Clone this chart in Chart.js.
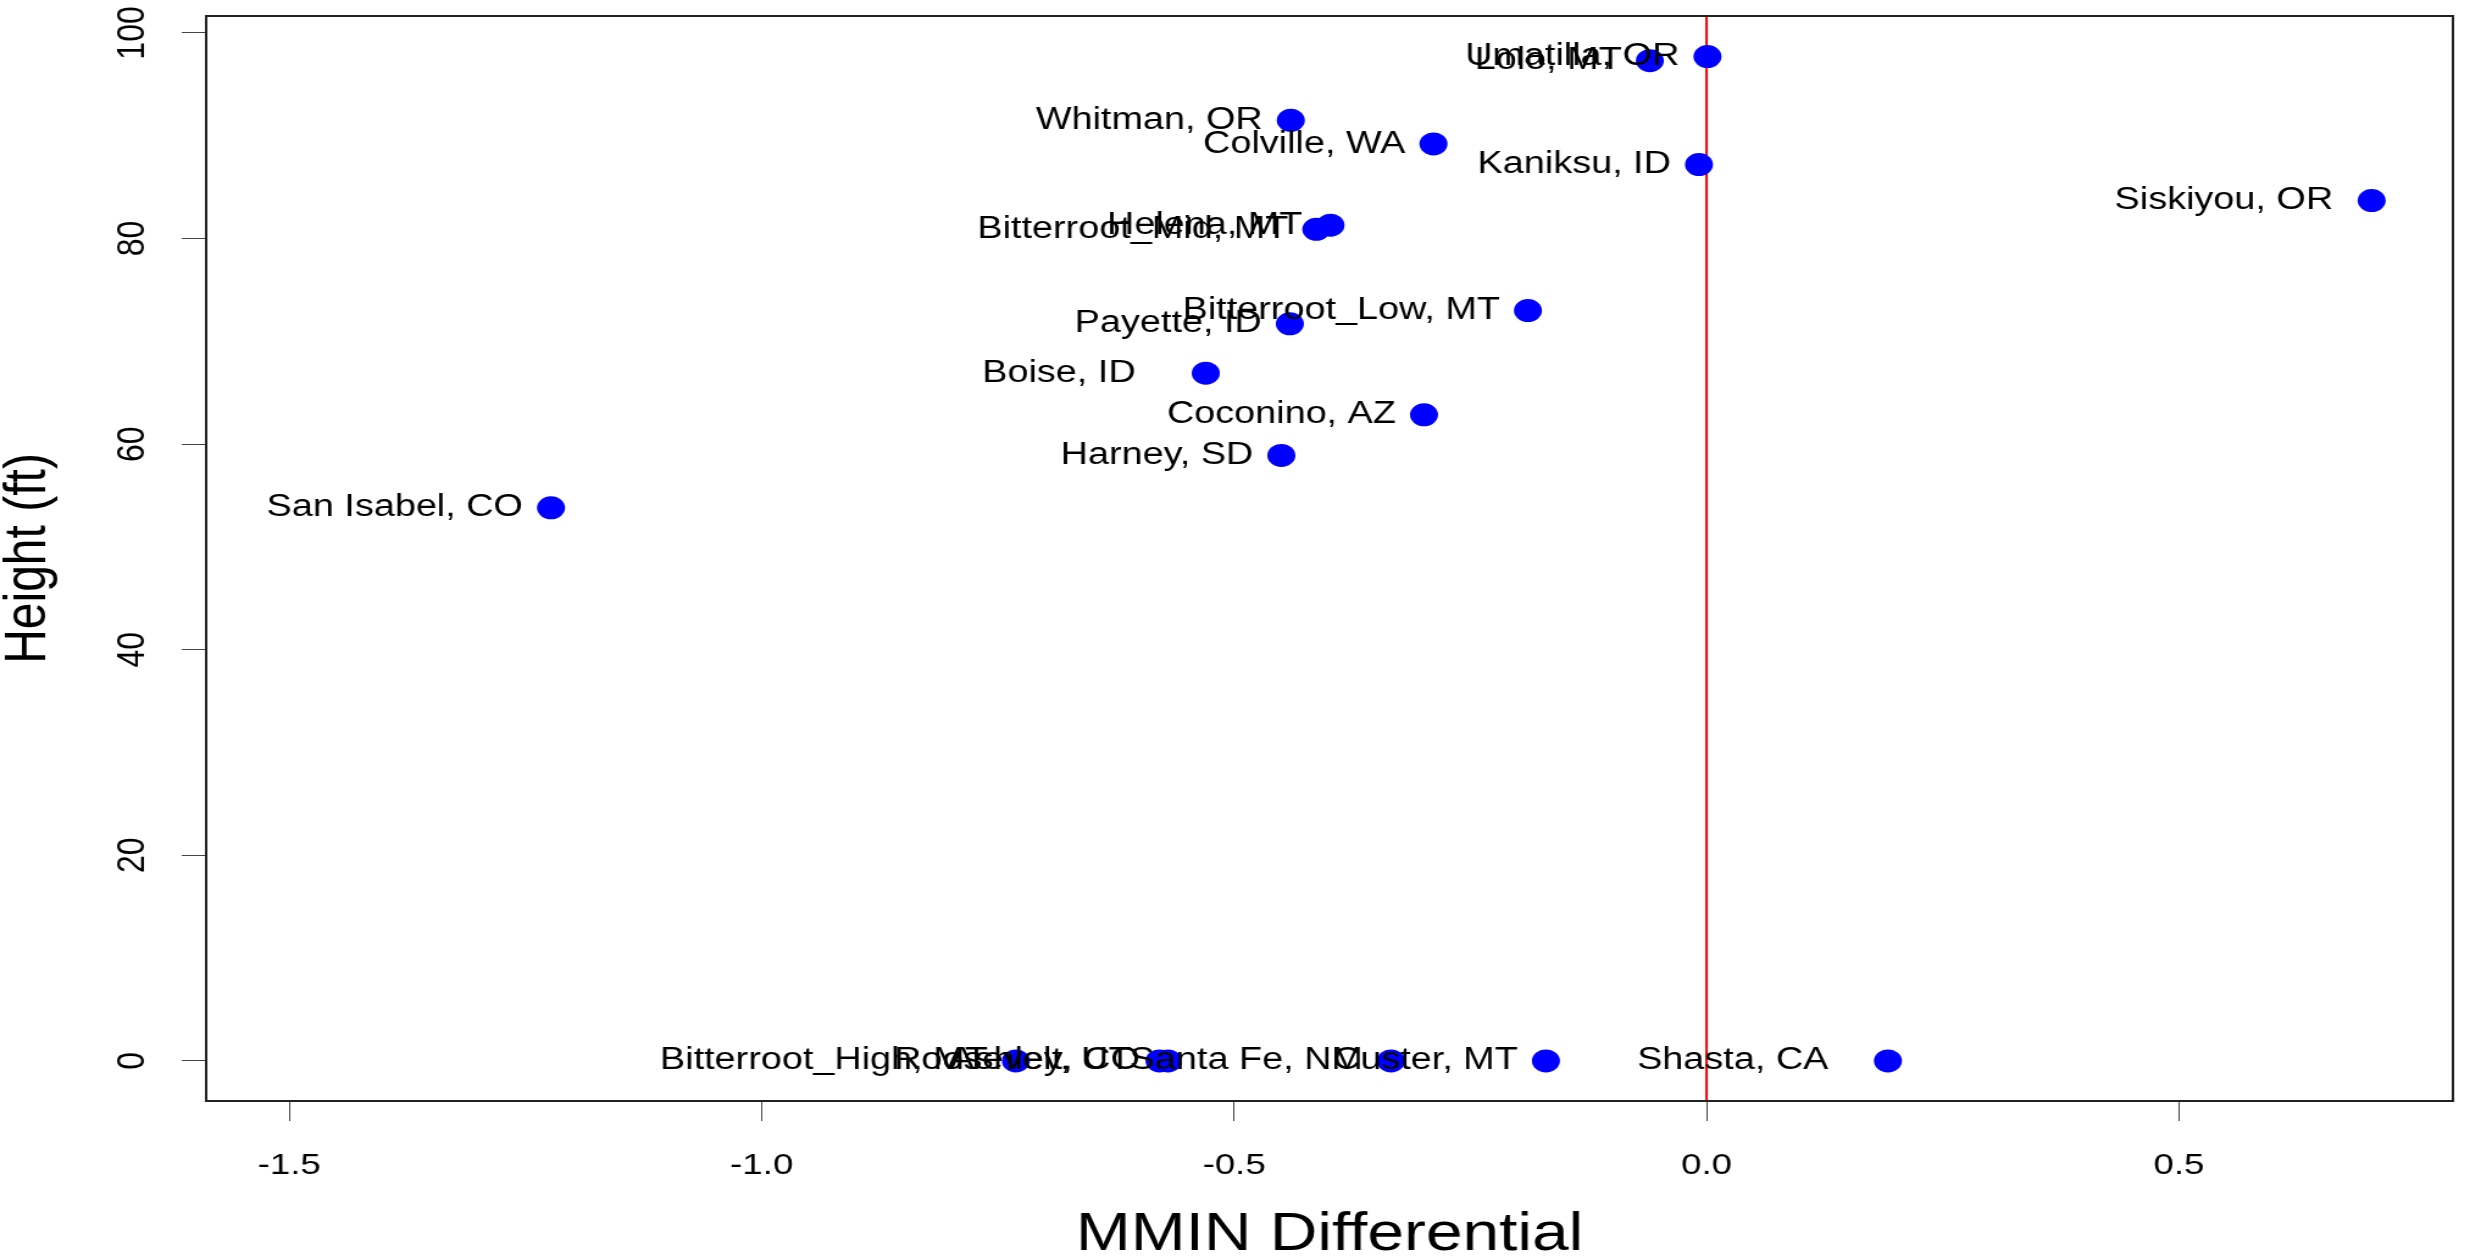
<!DOCTYPE html>
<html>
<head>
<meta charset="utf-8">
<title>Height vs MMIN Differential</title>
<script src="https://cdn.jsdelivr.net/npm/chart.js@4.4.1/dist/chart.umd.min.js"></script>
<style>
    html, body { margin: 0; padding: 0; background: #ffffff; overflow: hidden; }
    /* the original plot is stretched sideways, so the canvas is drawn narrower and widened by css */
    #chart { display: block; width: 2470px !important; height: 1257px !important; }
</style>
</head>
<body>
<canvas id="chart" width="2025" height="1257" style="width:2470px;height:1257px"></canvas>
<script>
// forest labels (trailing spaces kept as in the original labels)
const forests = [
    'Umatilla, OR', 'Lolo, MT', 'Whitman, OR', 'Colville, WA', 'Kaniksu, ID',
    'Siskiyou, OR ', 'Helena, MT', 'Bitterroot_Mid, MT', 'Bitterroot_Low, MT', 'Payette, ID',
    'Boise, ID    ', 'Coconino, AZ', 'Harney, SD', 'San Isabel, CO', 'Bitterroot_High, MT',
    'Ashley, UT', 'Roosevelt, CO', 'Santa Fe, NM', 'Custer, MT', 'Shasta, CA   '
];
const mminDiff = [
    0.001, -0.060, -0.440, -0.289, -0.008,
    0.704, -0.398, -0.413, -0.189, -0.441,
    -0.530, -0.299, -0.450, -1.223, -0.731,
    -0.579, -0.570, -0.334, -0.170, 0.192
];
const heightFt = [
    97.7, 97.3, 91.5, 89.2, 87.2,
    83.7, 81.3, 80.9, 73.0, 71.7,
    66.9, 62.85, 58.9, 53.8, 0,
    0, 0, 0, 0, 0
];
const xLimits = [-1.588, 0.79];
const yLimits = [-3.9, 101.65];
const xTickStep = 0.5;
const yTickStep = 20;
const refLineX = 0;

const FONT = '"Liberation Sans", Arial, Helvetica, sans-serif';
Chart.defaults.font.family = FONT;
Chart.defaults.color = '#000000';

const points = mminDiff.map((x, i) => ({x: x, y: heightFt[i]}));

// red reference line at x = 0, under the points
const refLine = {
    id: 'refLine',
    beforeDatasetsDraw(chart) {
        const ctx = chart.ctx;
        const area = chart.chartArea;
        const px = chart.scales.x.getPixelForValue(refLineX);
        ctx.save();
        ctx.strokeStyle = '#ff0000';
        ctx.lineWidth = 2;
        ctx.beginPath();
        ctx.moveTo(px, area.top);
        ctx.lineTo(px, area.bottom);
        ctx.stroke();
        ctx.restore();
    }
};

// text labels left of each point, plus the box and rotated y tick labels
const labels = {
    id: 'labels',
    afterDatasetsDraw(chart) {
        const ctx = chart.ctx;
        const meta = chart.getDatasetMeta(0);
        ctx.save();
        ctx.font = '31px ' + FONT;
        ctx.fillStyle = '#000000';
        ctx.textAlign = 'right';
        ctx.textBaseline = 'middle';
        meta.data.forEach((pt, i) => {
            ctx.fillText(forests[i], pt.x - 23, pt.y);
        });
        ctx.restore();
    },
    afterDraw(chart) {
        const ctx = chart.ctx;
        const area = chart.chartArea;
        ctx.save();
        ctx.strokeStyle = '#222222';
        ctx.lineWidth = 2;
        ctx.strokeRect(area.left, area.top, area.right - area.left, area.bottom - area.top);

        const yScale = chart.scales.y;
        ctx.font = '32px ' + FONT;
        ctx.fillStyle = '#000000';
        ctx.textAlign = 'center';
        ctx.textBaseline = 'middle';
        yScale.ticks.forEach(t => {
            const py = yScale.getPixelForValue(t.value);
            ctx.save();
            ctx.translate(area.left - 60, py);
            ctx.rotate(-Math.PI / 2);
            ctx.fillText(String(t.value), 0, 0);
            ctx.restore();
        });
        ctx.restore();
    }
};

const chart = new Chart(document.getElementById('chart'), {
    type: 'scatter',
    data: {
        datasets: [{
            label: 'Forests',
            data: points,
            backgroundColor: '#0000ff',
            borderWidth: 0,
            pointRadius: 11.5,
            pointHoverRadius: 11.5
        }]
    },
    options: {
        responsive: false,
        animation: false,
        devicePixelRatio: 1,
        layout: {
            padding: {top: 16, right: 14, bottom: 0, left: 0}
        },
        plugins: {
            legend: {display: false},
            tooltip: {enabled: false}
        },
        scales: {
            x: {
                type: 'linear',
                position: 'bottom',
                min: xLimits[0],
                max: xLimits[1],
                ticks: {
                    stepSize: xTickStep,
                    includeBounds: false,
                    autoSkip: false,
                    maxRotation: 0,
                    padding: 27,
                    font: {size: 30},
                    color: '#000000',
                    callback: v => Number(v).toFixed(1)
                },
                grid: {
                    drawOnChartArea: false,
                    drawTicks: true,
                    tickLength: 20,
                    tickColor: '#444444',
                    tickWidth: 1
                },
                border: {display: false},
                title: {
                    display: true,
                    text: 'MMIN Differential',
                    color: '#000000',
                    font: {size: 54, lineHeight: 1},
                    padding: {top: 0, bottom: -5}
                },
                afterFit: scale => { scale.height = 156; }
            },
            y: {
                type: 'linear',
                position: 'left',
                min: yLimits[0],
                max: yLimits[1],
                ticks: {
                    stepSize: yTickStep,
                    includeBounds: false,
                    display: false
                },
                grid: {
                    drawOnChartArea: false,
                    drawTicks: true,
                    tickLength: 20,
                    tickColor: '#444444',
                    tickWidth: 1
                },
                border: {display: false},
                title: {
                    display: true,
                    text: 'Height (ft)',
                    color: '#000000',
                    font: {size: 48, lineHeight: 1},
                    padding: {top: 0, bottom: 0}
                },
                afterFit: scale => { scale.width = 169; }
            }
        }
    },
    plugins: [refLine, labels]
});
</script>
</body>
</html>
